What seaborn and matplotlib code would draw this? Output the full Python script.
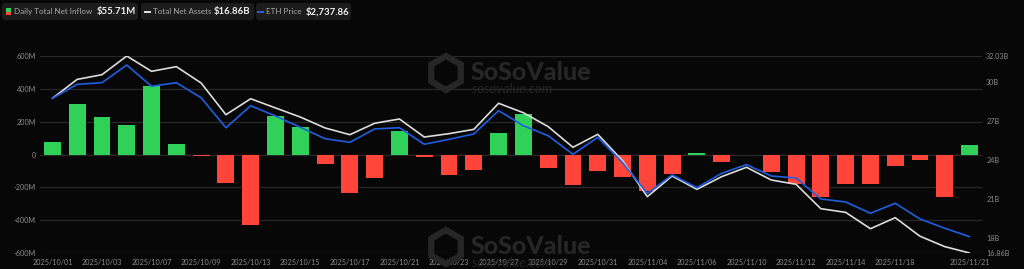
import numpy as np
import pandas as pd
import matplotlib
matplotlib.use("Agg")
import matplotlib.pyplot as plt
import seaborn as sns
from matplotlib.patches import FancyBboxPatch, RegularPolygon, Rectangle
from matplotlib.transforms import IdentityTransform

# ---------------- data ----------------
dates = ["2025/10/01", "2025/10/02", "2025/10/03", "2025/10/06", "2025/10/07", "2025/10/08",
         "2025/10/09", "2025/10/10", "2025/10/13", "2025/10/14", "2025/10/15", "2025/10/16",
         "2025/10/17", "2025/10/20", "2025/10/21", "2025/10/22", "2025/10/23", "2025/10/24",
         "2025/10/27", "2025/10/28", "2025/10/29", "2025/10/30", "2025/10/31", "2025/11/03",
         "2025/11/04", "2025/11/05", "2025/11/06", "2025/11/07", "2025/11/10", "2025/11/11",
         "2025/11/12", "2025/11/13", "2025/11/14", "2025/11/17", "2025/11/18", "2025/11/19",
         "2025/11/20", "2025/11/21"]
inflow_m = [79, 305, 231, 178, 418, 67, -9, -176, -428, 234, 168, -58,
            -232, -145, 141, -18, -127, -93, 131, 244, -83, -184, -99, -135,
            -221, -118, 12, -46, 0, -107, -182, -257, -178, -182, -73, -35,
            -259, 55.71]
net_assets_b = [28.77, 30.23, 30.59, 32.03, 30.85, 31.21, 29.95, 27.51, 28.74, 28.03, 27.33, 26.49,
                25.97, 26.85, 27.18, 25.79, 26.05, 26.38, 28.39, 27.66, 26.59, 25.00, 26.00, 23.97,
                21.20, 22.79, 21.76, 22.74, 23.46, 22.48, 22.15, 20.27, 19.99, 18.73, 19.58, 18.15,
                17.35, 16.86]
eth_price = [4311, 4471, 4489, 4690, 4448, 4489, 4318, 3977, 4227, 4110, 3982, 3852,
             3811, 3963, 3977, 3789, 3845, 3906, 4171, 4000, 3886, 3675, 3868, 3579,
             3231, 3440, 3295, 3459, 3557, 3428, 3405, 3167, 3133, 3004, 3118, 2939,
             2834, 2737.86]
xtick_idx = [0, 2, 4, 6, 8, 10, 12, 14, 16, 18, 20, 22, 24, 26, 28, 30, 32, 34, 37]
left_ticks = [-600, -400, -200, 0, 200, 400, 600]
left_labels = ["-600M", "-400M", "-200M", "0", "200M", "400M", "600M"]
right_ticks = [16.86, 18, 21, 24, 27, 30, 32.03]
right_labels = ["16.86B", "18B", "21B", "24B", "27B", "30B", "32.03B"]

# ---------------- style ----------------
BG = "#070707"
GREEN = "#30d158"
RED = "#ff453a"
BLUE = "#1f5fe0"
WHITE = "#dcdcdc"
GRID = "#282828"
TICK = "#8c8c8c"

sns.set_theme(style="dark")
plt.rcParams["font.family"] = ["Lato", "DejaVu Sans"]

W, H = 1024, 269
fig = plt.figure(figsize=(W / 100, H / 100), dpi=100, facecolor=BG)

def fx(x):
    return x / W

def fy(y):
    return 1 - y / H

ax = fig.add_axes([fx(40), fy(253), (982 - 40) / W, (253 - 56) / H])
ax.set_facecolor(BG)

df = pd.DataFrame({"date": dates, "inflow": inflow_m})
df["sign"] = np.where(df["inflow"] >= 0, "pos", "neg")
sns.barplot(data=df, x="date", y="inflow", hue="sign", order=dates,
            palette={"pos": GREEN, "neg": RED}, dodge=False, width=0.68,
            legend=False, ax=ax, saturation=1, linewidth=0, zorder=2)

ax.set_xlim(-0.5, len(dates) - 0.5)
ax.set_ylim(-600, 600)
ax.set_yticks(left_ticks)
ax.set_yticklabels(left_labels)
ax.set_xticks(xtick_idx)
ax.set_xticklabels([dates[i] for i in xtick_idx])
ax.set_xlabel("")
ax.set_ylabel("")
ax.yaxis.grid(True, color=GRID, lw=0.9)
ax.xaxis.grid(False)
ax.set_axisbelow(True)
ax.tick_params(axis="both", length=0, colors=TICK, labelsize=5.2)
ax.tick_params(axis="y", pad=3)
ax.tick_params(axis="x", pad=4)
for s in ax.spines.values():
    s.set_visible(False)

# total net assets (right axis)
ax2 = ax.twinx()
x = np.arange(len(dates))
sns.lineplot(x=x, y=net_assets_b, ax=ax2, color=WHITE, lw=1.2, zorder=3)
ax2.set_ylim(16.86, 32.03)
ax2.set_yticks(right_ticks)
ax2.set_yticklabels(right_labels)
ax2.tick_params(axis="y", length=0, colors=TICK, labelsize=5.2, pad=3)
ax2.grid(False)
ax2.set_ylabel("")
for s in ax2.spines.values():
    s.set_visible(False)

# eth price (hidden axis)
ax3 = ax.twinx()
sns.lineplot(x=x, y=eth_price, ax=ax3, color=BLUE, lw=1.2, zorder=4)
ax3.set_ylim(2552.5, 4792.5)
ax3.set_yticks([])
ax3.grid(False)
ax3.set_ylabel("")
for s in ax3.spines.values():
    s.set_visible(False)
ax.set_xlim(-0.5, len(dates) - 0.5)

# ---------------- watermarks ----------------
WM = "#262626"
for cy in (73, 247):
    fig.add_artist(RegularPolygon((446, H - cy), numVertices=6, radius=17,
                                  orientation=0, transform=IdentityTransform(),
                                  facecolor="none", edgecolor=WM, lw=4.5, zorder=0.5))
    fig.text(fx(471), fy(cy - 1), "SoSoValue", color=WM, fontsize=18, fontweight="black",
             ha="left", va="center", zorder=0.5)
    fig.text(fx(472), fy(cy + 16), "sosovalue.com", color=WM, fontsize=9.5,
             style="italic", ha="left", va="center", zorder=0.5)

# ---------------- header legend ----------------
BOX = "#1c1c1c"
def box(x0, x1, y0=3, y1=20):
    fig.add_artist(FancyBboxPatch((x0, H - y1), x1 - x0, y1 - y0,
                                  boxstyle="round,pad=0,rounding_size=3",
                                  transform=IdentityTransform(),
                                  facecolor=BOX, edgecolor="none", zorder=1))

box(2, 138)
box(141, 254)
box(256, 351)
ty = 11.5
LBL = 5.8
VAL = 6.9
# icon 1: green/red square
fig.add_artist(Rectangle((6, H - 11.5), 5, 3.5, transform=IdentityTransform(),
                         facecolor=GREEN, edgecolor="none", zorder=2))
fig.add_artist(Rectangle((6, H - 15), 5, 3.5, transform=IdentityTransform(),
                         facecolor=RED, edgecolor="none", zorder=2))
fig.text(fx(14), fy(ty), "Daily Total Net Inflow", color="#a8a8a8", fontsize=LBL,
         ha="left", va="center", zorder=3)
fig.text(fx(97), fy(ty), "$55.71M", color="#f0f0f0", fontsize=VAL, fontweight="bold",
         ha="left", va="center", zorder=3)
# icon 2: white dash
fig.add_artist(Rectangle((144, H - 13), 7, 2.5, transform=IdentityTransform(),
                         facecolor=WHITE, edgecolor="none", zorder=2))
fig.text(fx(153), fy(ty), "Total Net Assets", color="#a8a8a8", fontsize=LBL,
         ha="left", va="center", zorder=3)
fig.text(fx(214), fy(ty), "$16.86B", color="#f0f0f0", fontsize=VAL, fontweight="bold",
         ha="left", va="center", zorder=3)
# icon 3: blue dash
fig.add_artist(Rectangle((257, H - 13), 7, 2.5, transform=IdentityTransform(),
                         facecolor=BLUE, edgecolor="none", zorder=2))
fig.text(fx(266), fy(ty), "ETH Price", color="#a8a8a8", fontsize=LBL,
         ha="left", va="center", zorder=3)
fig.text(fx(306), fy(ty), "$2,737.86", color="#f0f0f0", fontsize=VAL, fontweight="bold",
         ha="left", va="center", zorder=3)

fig.savefig("out.png", dpi=100, facecolor=BG)
